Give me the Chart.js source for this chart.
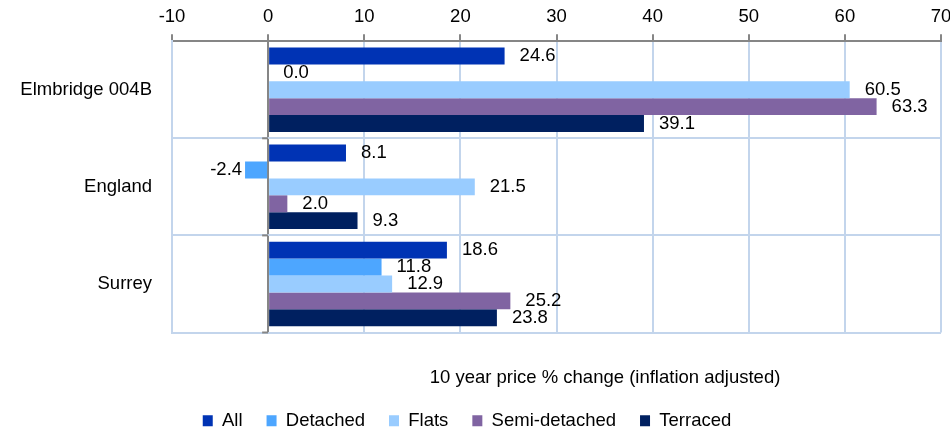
<!DOCTYPE html>
<html lang="en">
<head>
    <meta charset="UTF-8">
    <title>10 year price % change</title>
    <script src="https://cdn.jsdelivr.net/npm/chart.js"></script>
    <style>
        html, body { margin: 0; padding: 0; background: #fff; }
        #wrap { width: 950px; height: 430px; position: relative; }
    </style>
</head>
<body>
    <div id="wrap"><canvas id="priceChart"></canvas></div>

    <script>
        // Data
        const areas = ['Elmbridge 004B', 'England', 'Surrey'];
        const seriesNames = ['All', 'Detached', 'Flats', 'Semi-detached', 'Terraced'];
        const allValues = [24.6, 8.1, 18.6];
        const detachedValues = [0.0, -2.4, 11.8];
        const flatsValues = [60.5, 21.5, 12.9];
        const semiValues = [63.3, 2.0, 25.2];
        const terracedValues = [39.1, 9.3, 23.8];
        const xTicks = [-10, 0, 10, 20, 30, 40, 50, 60, 70];
        const xTitle = '10 year price % change (inflation adjusted)';

        const seriesValues = [allValues, detachedValues, flatsValues, semiValues, terracedValues];
        const seriesColors = ['#0033b4', '#4da6ff', '#99ccff', '#8064a2', '#002060'];

        const FONT = 'Liberation Sans, Arial, sans-serif';
        const gridBlue = '#c3d5ec';
        const axisGray = '#868686';

        // value labels next to each bar + x axis title
        const labelPlugin = {
            id: 'valueLabels',
            afterDatasetsDraw(chart) {
                const c = chart.ctx;
                c.save();
                c.font = '18.5px ' + FONT;
                c.fillStyle = '#000';
                c.textBaseline = 'middle';
                chart.data.datasets.forEach((ds, i) => {
                    const meta = chart.getDatasetMeta(i);
                    meta.data.forEach((bar, j) => {
                        const v = ds.data[j];
                        const txt = v.toFixed(1);
                        if (v < 0) {
                            c.textAlign = 'right';
                            c.fillText(txt, bar.x - 3, bar.y);
                        } else {
                            c.textAlign = 'left';
                            c.fillText(txt, bar.x + 15, bar.y);
                        }
                    });
                });
                // small ticks on the zero line at category boundaries
                const x0 = chart.scales.x.getPixelForValue(0);
                const ys = chart.scales.y;
                c.strokeStyle = axisGray;
                c.lineWidth = 2;
                for (let k = 1; k <= areas.length; k++) {
                    const yy = ys.top + k * (ys.bottom - ys.top) / areas.length;
                    c.beginPath();
                    c.moveTo(x0 - 6, yy);
                    c.lineTo(x0, yy);
                    c.stroke();
                }
                c.textAlign = 'center';
                c.fillText(xTitle, 605, 378);
                c.restore();
            }
        };

        new Chart(document.getElementById('priceChart'), {
            type: 'bar',
            data: {
                labels: areas,
                datasets: seriesNames.map((name, i) => ({
                    label: name,
                    data: seriesValues[i],
                    backgroundColor: seriesColors[i],
                    categoryPercentage: 0.87,
                    barPercentage: 1.0
                }))
            },
            options: {
                indexAxis: 'y',
                responsive: true,
                maintainAspectRatio: false,
                animation: false,
                layout: { padding: { left: -16, right: 0, top: 0, bottom: -10 } },
                scales: {
                    x: {
                        position: 'top',
                        min: -10,
                        max: 70,
                        afterBuildTicks: scale => { scale.ticks = xTicks.map(v => ({ value: v })); },
                        afterFit: scale => { scale.paddingRight = 9; scale.paddingLeft = 0; },
                        ticks: { color: '#000', font: { family: FONT, size: 18.5 }, padding: 6 },
                        grid: {
                            color: ctx => (ctx.tick && ctx.tick.value === 0 ? axisGray : gridBlue),
                            lineWidth: 2,
                            tickColor: axisGray,
                            tickLength: 7
                        },
                        border: { color: axisGray, width: 2 }
                    },
                    x2: {
                        position: 'bottom',
                        axis: 'x',
                        display: true,
                        min: -10,
                        max: 70,
                        ticks: { display: false },
                        grid: { display: false, drawTicks: false },
                        border: { display: false },
                        afterFit: scale => { scale.height = 55; }
                    },
                    y: {
                        afterFit: scale => { scale.width = 188; },
                        ticks: { color: '#000', font: { family: FONT, size: 18.5 }, padding: 20 },
                        grid: { color: gridBlue, lineWidth: 2, drawTicks: false, offset: true },
                        border: { color: gridBlue, width: 2 }
                    }
                },
                plugins: {
                    legend: {
                        position: 'bottom',
                        labels: {
                            color: '#000',
                            font: { family: FONT, size: 18.5 },
                            boxWidth: 10,
                            boxHeight: 11,
                            padding: 24
                        }
                    },
                    tooltip: { enabled: false }
                }
            },
            plugins: [labelPlugin]
        });
    </script>
</body>
</html>
